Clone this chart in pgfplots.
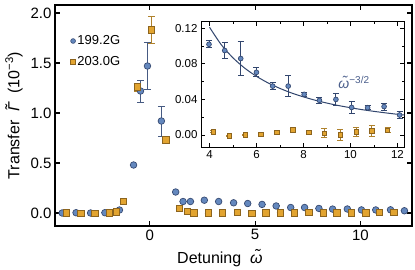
\documentclass[border=0pt]{standalone}
\usepackage{fontspec}
\setmainfont{Liberation Sans}
\usepackage{pgfplots}
\pgfplotsset{compat=1.18}
\definecolor{bfill}{RGB}{100,136,190}
\definecolor{bedge}{RGB}{55,75,115}
\definecolor{berr}{RGB}{70,90,130}
\definecolor{ofill}{RGB}{226,164,48}
\definecolor{oedge}{RGB}{140,100,30}
\definecolor{oerr}{RGB}{175,130,45}
\definecolor{curve}{RGB}{50,70,110}
\definecolor{lbl}{RGB}{75,95,140}

\pgfplotstableread{
x y e
-4.16 0.000 0
-3.50 0.003 0
-2.81 0.000 0
-2.13 0.003 0
-1.44 0.030 0
-0.77 0.480 0
-0.44 1.220 0.11
-0.11 1.470 0.235
0.55 0.920 0.15
1.23 0.210 0
1.58 0.115 0
1.93 0.115 0
2.59 0.128 0
3.27 0.115 0
3.98 0.102 0
4.65 0.095 0
5.33 0.086 0
6.00 0.0705 0
6.69 0.055 0
7.35 0.055 0
8.03 0.0457 0
8.68 0.039 0
9.38 0.040 0
10.05 0.031 0
10.73 0.0307 0
11.43 0.032 0
12.09 0.0225 0
}\mainblue

\pgfplotstableread{
x y e
-3.97 0.000 0
-3.28 -0.003 0
-2.61 -0.003 0
-1.93 0.000 0
-1.60 0.013 0
-1.25 0.115 0
-0.60 1.260 0.04
0.08 1.830 0.135
0.76 0.730 0.02
1.40 0.046 0
1.77 0.017 0
2.09 0.000 0
2.77 0.000 0
3.45 0.000 0
4.16 0.0037 0
4.84 -0.001 0
5.52 0.000 0
6.19 0.0011 0
6.87 0.003 0
7.55 0.0056 0
8.23 0.003 0
8.89 0.002 0
9.57 0.000 0
10.25 0.0034 0
10.91 0.0048 0
11.58 0.0054 0
}\mainorange

\pgfplotstableread{
x y e
3.98 0.102 0.004
4.65 0.095 0.009
5.33 0.086 0.019
6.00 0.0705 0.005
6.69 0.055 0.004
7.35 0.055 0.012
8.03 0.0457 0.002
8.68 0.039 0.003
9.38 0.040 0.007
10.05 0.031 0.007
10.73 0.0307 0.002
11.43 0.032 0.004
12.09 0.0225 0.004
}\insetblue

\pgfplotstableread{
x y e
4.16 0.0037 0.001
4.84 -0.001 0.001
5.52 0.000 0.001
6.19 0.0011 0.001
6.87 0.003 0.0015
7.55 0.0056 0.0015
8.23 0.003 0.001
8.89 0.002 0.005
9.57 0.000 0.006
10.25 0.0034 0.005
10.91 0.0048 0.006
11.58 0.0054 0.003
}\insetorange

\begin{document}
\begin{tikzpicture}
\useasboundingbox (-55pt,-43pt) rectangle (360pt,226pt);
\begin{axis}[
  at={(0pt,0pt)}, anchor=south west,
  scale only axis, width=357pt, height=221pt,
  xmin=-4.5, xmax=12.45, ymin=-0.13, ymax=2.08,
  xtick={0,5,10}, ytick={0,0.5,1,1.5,2},
  tick align=inside, major tick length=5pt,
  axis line style={line width=1.1pt},
  every tick/.style={black, line width=1.1pt},
  /pgf/number format/assume math mode=true,
  ticklabel style={font=\fontsize{15}{18}\selectfont},
  yticklabel style={/pgf/number format/.cd, fixed, fixed zerofill, precision=1},
  xticklabel style={/pgf/number format/.cd, fixed},
  xlabel={Detuning \ {\itshape\~{ω}}},
  ylabel={Transfer \ {\itshape\~{Γ}} \ (10\textsuperscript{−3})},
  every axis x label/.style={at={(axis description cs:0.462,-0.145)}, anchor=center, font=\fontsize{16}{19}\selectfont},
  every axis y label/.style={at={(axis description cs:-0.115,0.5)}, rotate=90, anchor=center, font=\fontsize{16}{19}\selectfont},
  legend style={draw=none, fill=none, font=\fontsize{13}{15}\selectfont, at={(axis description cs:0.035,0.88)}, anchor=north west, row sep=6pt},
  legend cell align=left,
]
\addlegendimage{only marks, mark=*, mark size=2.4pt, mark options={fill=bfill, draw=bedge, line width=0.6pt}}
\addlegendentry{199.2G}
\addlegendimage{only marks, mark=square*, mark size=2.3pt, mark options={fill=ofill, draw=oedge, line width=0.6pt}}
\addlegendentry{203.0G}
\addplot[only marks, mark=*, mark size=3.3pt, mark options={fill=bfill, draw=bedge, line width=0.7pt},
  error bars/.cd, y dir=both, y explicit,
  error bar style={berr, line width=1pt},
  error mark options={rotate=90, mark size=3.5pt, berr, line width=1pt}]
  table[x=x, y=y, y error=e] {\mainblue};
\addplot[only marks, mark=square*, mark size=3.2pt, mark options={fill=ofill, draw=oedge, line width=0.7pt},
  error bars/.cd, y dir=both, y explicit,
  error bar style={oerr, line width=1pt},
  error mark options={rotate=90, mark size=3.5pt, oerr, line width=1pt}]
  table[x=x, y=y, y error=e] {\mainorange};
\end{axis}
\begin{axis}[
  at={(146pt,78.7pt)}, anchor=south west,
  scale only axis, width=203.3pt, height=125.6pt,
  axis background/.style={fill=white},
  xmin=3.64, xmax=12.29, ymin=-0.0138, ymax=0.1274,
  xtick={4,6,8,10,12}, ytick={0,0.04,0.08,0.12},
  minor x tick num=1, minor y tick num=1,
  tick align=inside, major tick length=4pt, minor tick length=2.5pt,
  axis line style={line width=0.9pt},
  every tick/.style={black, line width=0.8pt},
  /pgf/number format/assume math mode=true,
  ticklabel style={font=\fontsize{11.5}{13}\selectfont},
  yticklabel style={/pgf/number format/.cd, fixed, fixed zerofill, precision=2},
  xticklabel style={/pgf/number format/.cd, fixed},
]
\addplot[smooth, curve, line width=1pt] coordinates {
(4,0.1213) (4.5,0.1016) (5,0.0868) (5.5,0.0752) (6,0.0660) (6.5,0.0585) (7,0.0524)
(7.5,0.0472) (8,0.0429) (8.5,0.0391) (9,0.0359) (9.5,0.0331) (10,0.0307)
(10.5,0.0285) (11,0.0266) (11.5,0.0249) (12,0.0233) (12.29,0.0225)};
\addplot[only marks, mark=*, mark size=2.4pt, mark options={fill=bfill, draw=bedge, line width=0.7pt},
  error bars/.cd, y dir=both, y explicit,
  error bar style={curve, line width=0.9pt},
  error mark options={rotate=90, mark size=3pt, curve, line width=0.9pt}]
  table[x=x, y=y, y error=e] {\insetblue};
\addplot[only marks, mark=square*, mark size=2.2pt, mark options={fill=ofill, draw=oedge, line width=0.7pt},
  error bars/.cd, y dir=both, y explicit,
  error bar style={oerr, line width=0.9pt},
  error mark options={rotate=90, mark size=3pt, oerr, line width=0.9pt}]
  table[x=x, y=y, y error=e] {\insetorange};
\node[anchor=base west, text=lbl, font=\fontsize{14}{16}\selectfont, inner sep=0pt] at (axis cs:9.48,0.0525) {{\itshape\~{ω}}\textsuperscript{\fontsize{10}{12}\selectfont−3/2}};
\end{axis}
\end{tikzpicture}
\end{document}
